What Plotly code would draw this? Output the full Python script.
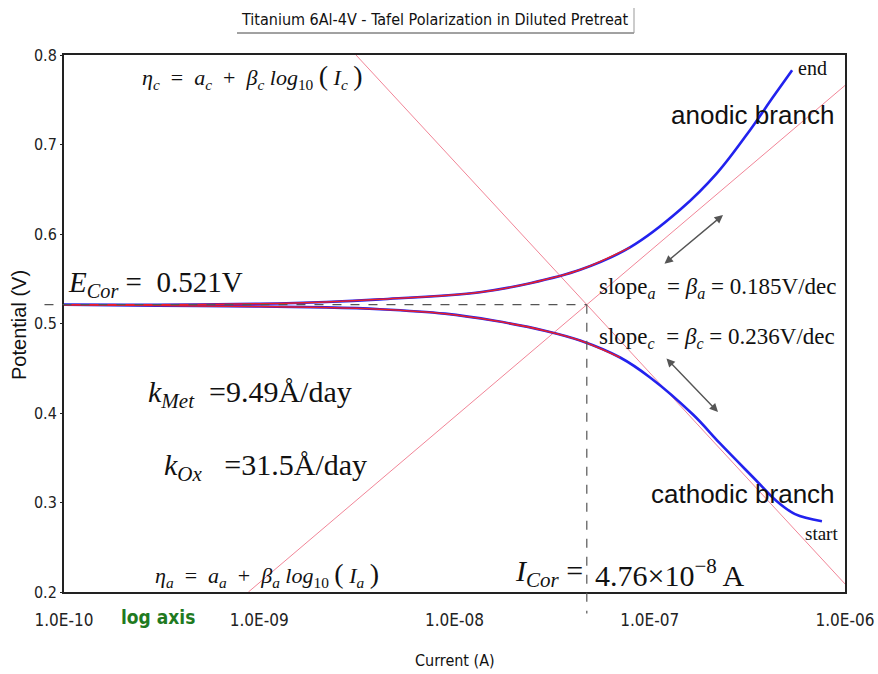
import plotly.graph_objects as go
import math

# ---- data ----
anodic_I = [1.0e-10, 3.0e-10, 1.0e-9, 2.2e-9, 4.15e-9, 1.35e-8, 2.44e-8, 4.40e-8,
            7.92e-8, 1.43e-7, 2.21e-7, 3.26e-7, 4.28e-7, 5.36e-7]
anodic_E = [0.521, 0.521, 0.522, 0.524, 0.527, 0.535, 0.545, 0.560,
            0.585, 0.627, 0.668, 0.716, 0.753, 0.783]

cathodic_I = [1.0e-10, 3.0e-10, 1.0e-9, 2.2e-9, 4.15e-9, 8.93e-9, 1.61e-8, 2.90e-8,
              4.40e-8, 7.05e-8, 1.0e-7, 1.67e-7, 2.29e-7, 3.46e-7, 4.39e-7, 5.55e-7, 7.62e-7]
cathodic_E = [0.521, 0.520, 0.519, 0.518, 0.516, 0.511, 0.503, 0.492,
              0.481, 0.462, 0.440, 0.398, 0.366, 0.326, 0.303, 0.287, 0.279]

fit_anodic_I = anodic_I[:9]
fit_anodic_E = anodic_E[:9]
fit_cathodic_I = cathodic_I[:10]
fit_cathodic_E = cathodic_E[:10]

# Tafel lines (end points)
tafel_a_I = [8.8e-10, 1.0e-6]
tafel_a_E = [0.200, 0.766]
tafel_c_I = [3.13e-9, 1.0e-6]
tafel_c_E = [0.800, 0.209]

E_cor = 0.521
I_cor = 4.76e-8

x_tickvals = [1e-10, 1e-9, 1e-8, 1e-7, 1e-6]
x_ticktext = ["1.0E-10", "1.0E-09", "1.0E-08", "1.0E-07", "1.0E-06"]
y_tickvals = [0.2, 0.3, 0.4, 0.5, 0.6, 0.7, 0.8]
y_ticktext = ["0.2", "0.3", "0.4", "0.5", "0.6", "0.7", "0.8"]

# ---- layout geometry (body margin removed by post_script) ----
W, H = 878, 674
PLOT_L, PLOT_R, PLOT_T, PLOT_B = 64, 845, 55, 592   # window pixels
L = PLOT_L
T = PLOT_T
PW = PLOT_R - PLOT_L
PH = PLOT_B - PLOT_T
R = W - L - PW
B = H - T - PH


def P(px, py):
    return (px - PLOT_L) / PW, (PLOT_B - py) / PH


fig = go.Figure()

pink = "rgba(240,120,140,0.9)"
fig.add_trace(go.Scatter(x=tafel_a_I, y=tafel_a_E, mode="lines",
                         line=dict(color=pink, width=1), hoverinfo="skip"))
fig.add_trace(go.Scatter(x=tafel_c_I, y=tafel_c_E, mode="lines",
                         line=dict(color=pink, width=1), hoverinfo="skip"))

fig.add_trace(go.Scatter(x=anodic_I, y=anodic_E, mode="lines",
                         line=dict(color="#2222ee", width=2.6, shape="spline")))
fig.add_trace(go.Scatter(x=cathodic_I, y=cathodic_E, mode="lines",
                         line=dict(color="#2222ee", width=2.6, shape="spline")))
fig.add_trace(go.Scatter(x=fit_anodic_I, y=fit_anodic_E, mode="lines",
                         line=dict(color="#e8202a", width=1.5, shape="spline")))
fig.add_trace(go.Scatter(x=fit_cathodic_I, y=fit_cathodic_E, mode="lines",
                         line=dict(color="#e8202a", width=1.5, shape="spline")))

# dashed corrosion lines (paper coords computed from the values)
xc = (math.log10(I_cor) + 10) / 4
yc = (E_cor - 0.2) / 0.6
dash = dict(color="#555555", width=1.2, dash="dash")
shapes = [
    dict(type="line", xref="paper", yref="paper", x0=-0.025, x1=xc, y0=yc, y1=yc, line=dash),
    dict(type="line", xref="paper", yref="paper", x0=xc, x1=xc, y0=yc, y1=-0.04, line=dash),
]
# title underline / shadow
tx0, ty = P(237, 33)
tx1, ty0 = P(634, 8)
shapes.append(dict(type="line", xref="paper", yref="paper", x0=tx0, x1=tx1, y0=ty, y1=ty,
                   line=dict(color="#444444", width=1)))
shapes.append(dict(type="line", xref="paper", yref="paper", x0=tx1, x1=tx1, y0=ty, y1=ty0,
                   line=dict(color="#999999", width=1)))

serif = "Liberation Serif, Times New Roman, serif"
narrow = "Liberation Sans Narrow, Arial Narrow, DejaVu Sans Condensed, Roboto Condensed, Liberation Sans, sans-serif"
sans = "Liberation Sans, Arial, sans-serif"

ann = []


def text(px, py, s, size, family=serif, color="#111111", xanchor="left", **kw):
    x, y = P(px, py)
    ann.append(dict(x=x, y=y, xref="paper", yref="paper", text=s, showarrow=False,
                    xanchor=xanchor, yanchor="middle",
                    font=dict(family=family, size=size, color=color), **kw))


text(435, 19, "Titanium 6Al-4V - Tafel Polarization in Diluted Pretreat", 16, narrow, xanchor="center")
text(66, 284, "<i>E</i><sub><i>Cor</i></sub> =  0.521V", 29)
text(146, 394, "<i>k</i><sub><i>Met</i></sub>  =9.49Å/day", 30)
text(162, 467, "<i>k</i><sub><i>Ox</i></sub>   =31.5Å/day", 30)
text(140, 77, "<i>η</i><sub><i>c</i></sub>  =  <i>a</i><sub><i>c</i></sub>  +  <i>β</i><sub><i>c</i></sub> <i>log</i><sub>10</sub> <span style='font-size:28px'>(</span> <i>I</i><sub><i>c</i></sub> <span style='font-size:28px'>)</span>", 22)
text(153, 574, "<i>η</i><sub><i>a</i></sub>  =  <i>a</i><sub><i>a</i></sub>  +  <i>β</i><sub><i>a</i></sub> <i>log</i><sub>10</sub> <span style='font-size:28px'>(</span> <i>I</i><sub><i>a</i></sub> <span style='font-size:28px'>)</span>", 22)
text(513, 573, "<i>I</i><sub><i>Cor</i></sub> =", 30)
text(593, 573, "4.76×10<sup>−8</sup> A", 30)
text(597, 288, "slope<sub><i>a</i></sub>  = <i>β</i><sub><i>a</i></sub> = 0.185V/dec", 23)
text(597, 338, "slope<sub><i>c</i></sub>  = <i>β</i><sub><i>c</i></sub> = 0.236V/dec", 23)
text(836, 115, "anodic branch", 26, sans, xanchor="right")
text(837, 494, "cathodic branch", 26, sans, xanchor="right")
text(796, 68, "end", 20)
text(803, 533, "start", 19)
text(119, 617, "<b>log axis</b>", 19, narrow, color="#1f7a1f")
text(455, 660, "Current (A)", 16, narrow, xanchor="center")
ann.append(dict(x=P(19, 325)[0], y=P(19, 325)[1], xref="paper", yref="paper",
                text="Potential (V)", showarrow=False, textangle=-90,
                xanchor="center", yanchor="middle",
                font=dict(family=sans, size=20, color="#111111")))

# double-headed arrows
for (hx, hy, tx, ty_) in [(723, 215, 663, 265), (718, 412, 665, 357)]:
    x, y = P(hx, hy)
    ann.append(dict(x=x, y=y, xref="paper", yref="paper", text="", showarrow=True,
                    ax=tx - hx, ay=ty_ - hy, arrowside="end+start",
                    arrowhead=2, startarrowhead=2, arrowsize=1.2, startarrowsize=1.2,
                    arrowwidth=1.4, arrowcolor="#555555"))

fig.update_layout(
    width=W, height=H,
    margin=dict(l=L, r=R, t=T, b=B, autoexpand=False),
    paper_bgcolor="white", plot_bgcolor="white",
    showlegend=False,
    shapes=shapes, annotations=ann,
    xaxis=dict(type="log", range=[-10, -6], tickvals=x_tickvals, ticktext=x_ticktext,
               showgrid=False, zeroline=False, showline=True, mirror=True,
               linecolor="#222222", linewidth=2, ticks="", ticklabelstandoff=12,
               ticklabeloverflow="allow",
               tickfont=dict(family=narrow, size=17, color="#222222")),
    yaxis=dict(range=[0.2, 0.8], tickvals=y_tickvals, ticktext=y_ticktext,
               showgrid=False, zeroline=False, showline=True, mirror=True,
               linecolor="#222222", linewidth=2, ticks="outside", ticklen=2,
               tickcolor="#222222", ticklabeloverflow="allow",
               tickfont=dict(family=narrow, size=16, color="#222222")),
)

fig.write_html("out.html", config={"displayModeBar": False},
               post_script="document.body.style.margin='0';document.body.style.overflow='hidden';")
